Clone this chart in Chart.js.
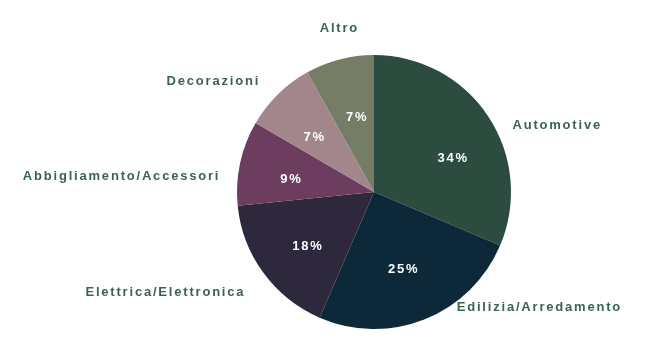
<!DOCTYPE html>
<html>
<head>
<meta charset="utf-8">
<script src="https://cdn.jsdelivr.net/npm/chart.js@4"></script>
<style>
  html, body { margin: 0; padding: 0; background: #fff; }
  #wrap { width: 645px; height: 360px; }
</style>
</head>
<body>
<div id="wrap"><canvas id="pie" width="645" height="360"></canvas></div>
<script>
// --- DATA ---
const categories = ['Automotive', 'Edilizia/Arredamento', 'Elettrica/Elettronica',
                    'Abbigliamento/Accessori', 'Decorazioni', 'Altro'];
// slice sizes as drawn in the picture
const shares = [31.4, 25.1, 16.9, 10.0, 8.5, 8.1];
// percentages printed on the slices
const shownPct = ['34%', '25%', '18%', '9%', '7%', '7%'];
const sliceColors = ['#2b4c3e', '#0c2839', '#2d283c', '#6d3d60', '#a2868b', '#767d67'];

// --- LAYOUT ---
// label centres, in units of pie radius, relative to pie centre
const outerLabelPos = [[1.33, -0.50], [1.20, 0.83], [-1.53, 0.72],
                       [-1.85, -0.13], [-1.18, -0.82], [-0.26, -1.21]];
const innerLabelPos = [[0.57, -0.26], [0.21, 0.55], [-0.49, 0.38],
                       [-0.61, -0.11], [-0.44, -0.41], [-0.13, -0.56]];
const LABEL_COLOR = '#3a6351';
const FONT = 'bold 13px "Liberation Sans", Arial, sans-serif';

const labelPlugin = {
    id: 'pieLabels',
    afterDatasetsDraw(chart) {
        const ctx = chart.ctx;
        const arcs = chart.getDatasetMeta(0).data;
        ctx.save();
        ctx.font = FONT;
        ctx.letterSpacing = '1.8px';
        ctx.textAlign = 'center';
        ctx.textBaseline = 'middle';
        arcs.forEach((arc, i) => {
            const p = arc.getProps(['x', 'y', 'outerRadius'], true);
            const R = p.outerRadius;

            const [ix, iy] = innerLabelPos[i];
            ctx.fillStyle = '#ffffff';
            ctx.fillText(shownPct[i], p.x + ix * R + 1, p.y + iy * R + 2);

            const [fx, fy] = outerLabelPos[i];
            ctx.fillStyle = LABEL_COLOR;
            ctx.fillText(categories[i], p.x + fx * R + 1, p.y + fy * R + 2);
        });
        ctx.restore();
    }
};

new Chart(document.getElementById('pie').getContext('2d'), {
    type: 'pie',
    data: {
        labels: categories,
        datasets: [{
            data: shares,
            backgroundColor: sliceColors,
            borderWidth: 0
        }]
    },
    options: {
        responsive: false,
        animation: false,
        layout: { padding: { left: 237, right: 134, top: 55, bottom: 31 } },
        plugins: {
            legend: { display: false },
            tooltip: { enabled: false }
        }
    },
    plugins: [labelPlugin]
});
</script>
</body>
</html>
